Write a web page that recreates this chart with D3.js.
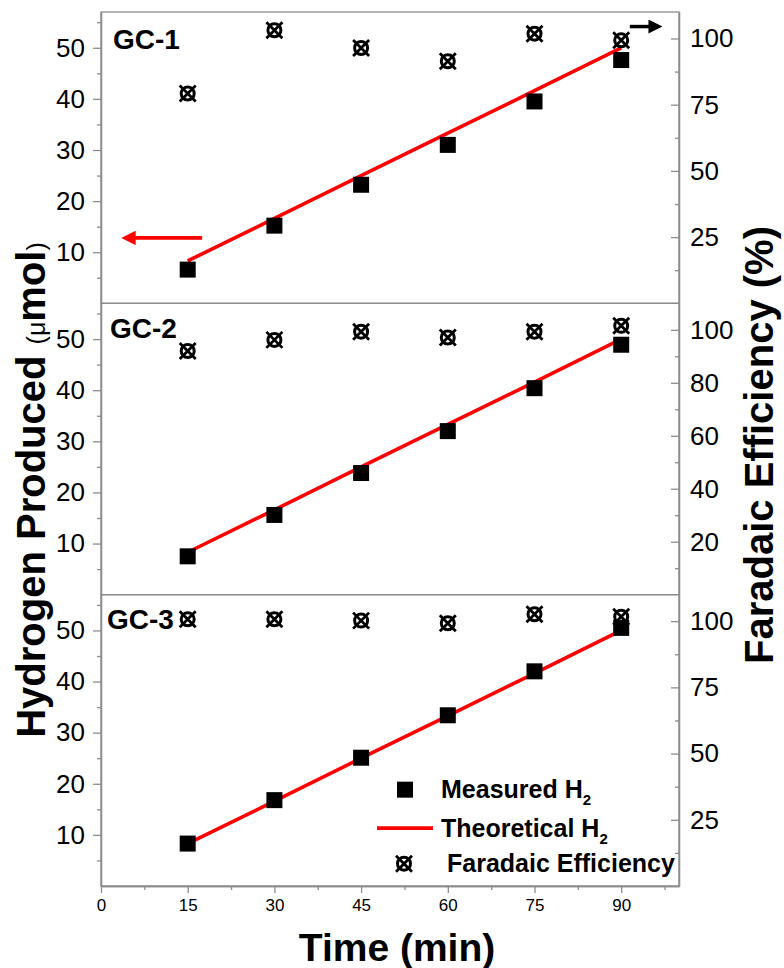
<!DOCTYPE html>
<html>
<head>
  <meta charset="utf-8">
  <title>Hydrogen produced and Faradaic efficiency</title>
  <script src="https://cdnjs.cloudflare.com/ajax/libs/d3/7.8.5/d3.min.js"></script>
  <style>
    body { margin: 0; background: #fff; }
    svg text { font-family: "Liberation Sans", Arial, sans-serif; fill: #000; }
    .axis path, .axis line { stroke: #8c8c8c; stroke-width: 1.3; }
    .axis text { font-size: 26px; }
    .xaxis text { font-size: 17px; }
  </style>
</head>
<body>
<div id="chart"></div>
<script>
// data
var times = [15, 30, 45, 60, 75, 90];
var measured1 = [6.6, 15.2, 23.2, 31.0, 39.5, 47.6];
var measured2 = [7.5, 15.6, 23.8, 32.0, 40.4, 48.9];
var measured3 = [8.3, 16.8, 25.1, 33.4, 42.0, 50.5];
var theoretical = [8.3, 16.6, 25.0, 33.3, 41.6, 50.0];
var faradaic1 = [79.2, 103.1, 96.4, 91.4, 101.8, 99.3];
var faradaic2 = [92.0, 96.2, 99.3, 97.1, 99.3, 101.5];
var faradaic3 = [100.7, 100.7, 100.2, 99.2, 102.6, 101.7];
var panelLabels = ["GC-1", "GC-2", "GC-3"];
var xTicks = [0, 15, 30, 45, 60, 75, 90];
var xMinor = [7.5, 22.5, 37.5, 52.5, 67.5, 82.5, 97.5];
var leftTicks = [10, 20, 30, 40, 50];
var leftMinor = [5, 15, 25, 35, 45, 55];
var rightTicks = [[25, 50, 75, 100], [20, 40, 60, 80, 100], [25, 50, 75, 100]];
var rightMinor = [[12.5, 37.5, 62.5, 87.5], [10, 30, 50, 70, 90], [12.5, 37.5, 62.5, 87.5]];

var measured = [measured1, measured2, measured3];
var faradaic = [faradaic1, faradaic2, faradaic3];

var W = 784, H = 968;
var margin = {top: 12, left: 101, right: 105, bottom: 82};
var width = W - margin.left - margin.right,
    plotH = H - margin.top - margin.bottom,
    panelH = plotH / 3;

var svg = d3.select("#chart").append("svg")
    .attr("width", W).attr("height", H);

var x = d3.scaleLinear().domain([0, 100]).range([0, width]);

// cross-circle symbol used for the efficiency points
function feMarker(g) {
  g.append("circle").attr("r", 6.5).attr("fill", "none")
    .attr("stroke", "#000").attr("stroke-width", 3);
  g.append("path").attr("d", "M-8,-8L8,8M8,-8L-8,8")
    .attr("stroke", "#000").attr("stroke-width", 2.8);
}

var defs = svg.append("defs");
defs.append("marker").attr("id", "redHead").attr("viewBox", "0 0 10 10")
  .attr("refX", 2).attr("refY", 5).attr("markerWidth", 5.5).attr("markerHeight", 4)
  .attr("orient", "auto").attr("markerUnits", "strokeWidth")
  .append("path").attr("d", "M0,0L10,5L0,10Z").attr("fill", "#ff0000");
defs.append("marker").attr("id", "blackHead").attr("viewBox", "0 0 10 10")
  .attr("refX", 2).attr("refY", 5).attr("markerWidth", 5).attr("markerHeight", 4)
  .attr("orient", "auto").attr("markerUnits", "strokeWidth")
  .append("path").attr("d", "M0,0L10,5L0,10Z").attr("fill", "#000");

measured.forEach(function (m, i) {
  var g = svg.append("g")
      .attr("transform", "translate(" + margin.left + "," + (margin.top + i * panelH) + ")");

  var yL = d3.scaleLinear().domain([0, 57]).range([panelH, 0]);
  var yR = d3.scaleLinear().domain([0, 110]).range([panelH, 0]);

  // frame
  g.append("rect").attr("width", width).attr("height", panelH)
    .attr("fill", "none").attr("stroke", "#8c8c8c").attr("stroke-width", 1.3);

  // left axis
  g.append("g").attr("class", "axis")
    .call(d3.axisLeft(yL).tickValues(leftTicks).tickSize(8).tickSizeOuter(0).tickPadding(8));
  g.append("g").attr("class", "axis")
    .call(d3.axisLeft(yL).tickValues(leftMinor).tickSize(4).tickSizeOuter(0).tickFormat(""));

  // right axis, ticks point inward
  g.append("g").attr("class", "axis").attr("transform", "translate(" + width + ",0)")
    .call(d3.axisRight(yR).tickValues(rightTicks[i]).tickSize(-8).tickSizeOuter(0).tickPadding(11));
  g.append("g").attr("class", "axis").attr("transform", "translate(" + width + ",0)")
    .call(d3.axisRight(yR).tickValues(rightMinor[i]).tickSize(-4).tickSizeOuter(0).tickFormat(""));

  // theoretical line
  g.append("path")
    .datum(times)
    .attr("fill", "none")
    .attr("stroke", "#ff0000")
    .attr("stroke-width", 3.6)
    .attr("d", d3.line().x(function (d) { return x(d); })
                        .y(function (d, j) { return yL(theoretical[j]); }));

  // measured squares
  g.append("g").selectAll("rect")
    .data(times)
    .enter().append("rect")
    .attr("x", function (d) { return x(d) - 8; })
    .attr("y", function (d, j) { return yL(m[j]) - 8; })
    .attr("width", 16).attr("height", 16)
    .attr("fill", "#000");

  // faradaic efficiency markers
  g.append("g").selectAll("g")
    .data(times)
    .enter().append("g")
    .attr("transform", function (d, j) { return "translate(" + x(d) + "," + yR(faradaic[i][j]) + ")"; })
    .each(function () { feMarker(d3.select(this)); });

  g.append("text")
    .attr("x", [12, 9, 6][i]).attr("y", [37, 35, 34][i])
    .attr("font-size", 28).attr("font-weight", "bold")
    .text(panelLabels[i]);

  if (i === 0) {
    // arrows telling which axis each series belongs to
    g.append("line")
      .attr("x1", x(17.5)).attr("x2", x(5.5))
      .attr("y1", yL(12.8)).attr("y2", yL(12.8))
      .attr("stroke", "#ff0000").attr("stroke-width", 3.6)
      .attr("marker-end", "url(#redHead)");
    g.append("line")
      .attr("x1", x(91.5)).attr("x2", x(95.2))
      .attr("y1", yR(104.5)).attr("y2", yR(104.5))
      .attr("stroke", "#000").attr("stroke-width", 3.5)
      .attr("marker-end", "url(#blackHead)");
  }

  if (i === 2) {
    // x axis
    g.append("g").attr("class", "axis xaxis").attr("transform", "translate(0," + panelH + ")")
      .call(d3.axisBottom(x).tickValues(xTicks).tickSize(7).tickSizeOuter(0).tickPadding(6));
    g.append("g").attr("class", "axis").attr("transform", "translate(0," + panelH + ")")
      .call(d3.axisBottom(x).tickValues(xMinor).tickSize(4).tickSizeOuter(0).tickFormat(""));

    // legend
    var lg = g.append("g").attr("transform", "translate(" + 304 + "," + 195 + ")");
    lg.append("rect").attr("x", -8).attr("y", -8).attr("width", 16).attr("height", 16).attr("fill", "#000");
    lg.append("line").attr("x1", -28).attr("x2", 28).attr("y1", 38.5).attr("y2", 38.5)
      .attr("stroke", "#ff0000").attr("stroke-width", 3.6);
    feMarker(lg.append("g").attr("transform", "translate(-1,74)"));

    var t1 = lg.append("text").attr("x", 36).attr("y", 8.5).attr("font-size", 25).attr("font-weight", "bold");
    t1.append("tspan").text("Measured H");
    t1.append("tspan").attr("font-size", 15).attr("dy", 7).text("2");
    var t2 = lg.append("text").attr("x", 36).attr("y", 47.5).attr("font-size", 25).attr("font-weight", "bold");
    t2.append("tspan").text("Theoretical H");
    t2.append("tspan").attr("font-size", 15).attr("dy", 7).text("2");
    lg.append("text").attr("x", 42).attr("y", 82.5).attr("font-size", 25).attr("font-weight", "bold")
      .text("Faradaic Efficiency");
  }
});

// axis titles
svg.append("text")
  .attr("x", 397).attr("y", 961)
  .attr("text-anchor", "middle").attr("font-size", 39).attr("font-weight", "bold")
  .text("Time (min)");

var lt = svg.append("text")
  .attr("transform", "translate(45,490) rotate(-90)")
  .attr("text-anchor", "middle").attr("font-size", 40).attr("font-weight", "bold");
lt.append("tspan").text("Hydrogen Produced ");
lt.append("tspan").attr("font-size", 25).attr("font-weight", "normal").text("(\u03bc");
lt.append("tspan").text("mol");
lt.append("tspan").attr("font-size", 25).attr("font-weight", "normal").text(")");

svg.append("text")
  .attr("transform", "translate(773,445) rotate(-90)")
  .attr("text-anchor", "middle").attr("font-size", 40).attr("font-weight", "bold")
  .text("Faradaic Efficiency (%)");
</script>
</body>
</html>
